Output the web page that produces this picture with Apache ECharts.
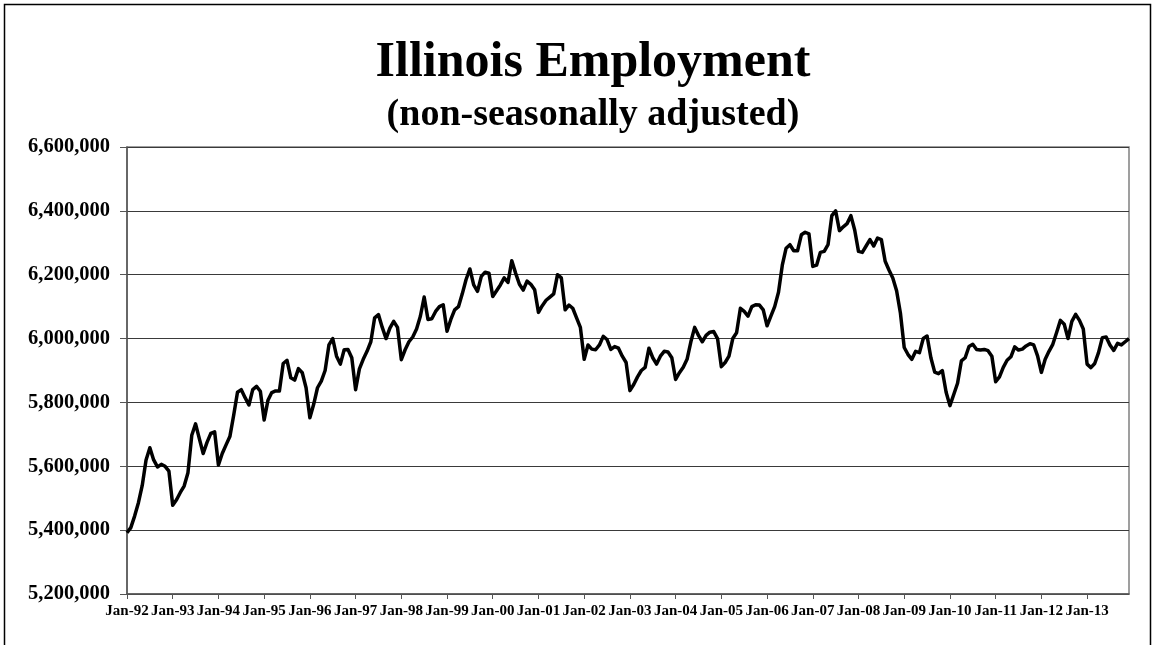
<!DOCTYPE html>
<html>
<head>
<meta charset="utf-8">
<script src="https://cdn.jsdelivr.net/npm/echarts@6/dist/echarts.min.js"></script>
<style>
  html, body { margin: 0; padding: 0; background: #ffffff; }
  #chart { width: 1156px; height: 645px; }
</style>
</head>
<body>
<div id="chart"></div>
<script>
// ---- data ----
const titleText = 'Illinois Employment';
const subtitleText = '(non-seasonally adjusted)';
const years = [1992,1993,1994,1995,1996,1997,1998,1999,2000,2001,2002,2003,2004,2005,2006,2007,2008,2009,2010,2011,2012,2013];
const monthNames = ['Jan','Feb','Mar','Apr','May','Jun','Jul','Aug','Sep','Oct','Nov','Dec'];
// monthly employment, Jan-92 .. Dec-13 (one row per year)
const employment = [
  5392000,5408000,5444000,5486000,5540000,5620000,5658000,5620000,5598000,5606000,5600000,5585000,
  5478000,5495000,5518000,5538000,5580000,5697000,5733000,5686000,5640000,5675000,5703000,5708000,
  5604000,5640000,5667000,5693000,5760000,5832000,5840000,5815000,5792000,5840000,5850000,5835000,
  5745000,5807000,5831000,5836000,5836000,5922000,5932000,5877000,5870000,5906000,5893000,5846000,
  5752000,5794000,5846000,5867000,5900000,5980000,6000000,5945000,5920000,5965000,5966000,5940000,
  5840000,5905000,5935000,5960000,5990000,6065000,6075000,6035000,6000000,6033000,6054000,6035000,
  5934000,5965000,5990000,6005000,6030000,6070000,6130000,6060000,6062000,6085000,6100000,6106000,
  6023000,6060000,6090000,6100000,6140000,6185000,6218000,6168000,6148000,6195000,6208000,6205000,
  6132000,6150000,6168000,6190000,6176000,6244000,6205000,6170000,6152000,6180000,6170000,6153000,
  6082000,6103000,6120000,6130000,6140000,6200000,6190000,6090000,6105000,6095000,6065000,6035000,
  5935000,5980000,5967000,5965000,5980000,6007000,5997000,5966000,5975000,5970000,5945000,5925000,
  5837000,5856000,5880000,5900000,5910000,5970000,5940000,5920000,5945000,5960000,5958000,5940000,
  5872000,5893000,5910000,5935000,5990000,6035000,6010000,5990000,6010000,6020000,6022000,6000000,
  5912000,5925000,5945000,6000000,6018000,6095000,6085000,6070000,6100000,6106000,6105000,6090000,
  6040000,6070000,6100000,6145000,6230000,6283000,6294000,6275000,6275000,6325000,6333000,6328000,
  6226000,6230000,6270000,6273000,6294000,6385000,6400000,6338000,6350000,6360000,6385000,6340000,
  6273000,6270000,6290000,6310000,6290000,6315000,6310000,6242000,6215000,6190000,6150000,6080000,
  5972000,5950000,5935000,5960000,5956000,6000000,6008000,5940000,5895000,5890000,5900000,5832000,
  5790000,5825000,5860000,5930000,5940000,5975000,5982000,5966000,5964000,5966000,5962000,5945000,
  5865000,5880000,5910000,5932000,5943000,5974000,5964000,5967000,5977000,5984000,5980000,5946000,
  5894000,5935000,5960000,5982000,6019000,6057000,6045000,6000000,6054000,6076000,6057000,6030000,
  5920000,5909000,5922000,5956000,6003000,6005000,5980000,5963000,5985000,5980000,5990000,6000000
];
const yMin = 5200000, yMax = 6600000, yStep = 200000;

// ---- build categories ----
const categories = [];
years.forEach(y => monthNames.forEach(m => categories.push(m + '-' + String(y).slice(2))));

const serif = '"Liberation Serif", "Times New Roman", serif';
const chart = echarts.init(document.getElementById('chart'), null, { renderer: 'canvas' });
chart.setOption({
  animation: false,
  backgroundColor: '#ffffff',
  title: [
    { text: titleText, left: 588, top: 33, textAlign: 'center',
      textStyle: { fontFamily: serif, fontWeight: 'bold', fontSize: 50, color: '#000' } },
    { text: subtitleText, left: 588, top: 91, textAlign: 'center',
      textStyle: { fontFamily: serif, fontWeight: 'bold', fontSize: 38, color: '#000' } }
  ],
  graphic: [
    { type: 'polyline', silent: true,
      shape: { points: [[4.5, 660], [4.5, 4.5], [1150.5, 4.5], [1150.5, 660]] },
      style: { stroke: '#000', lineWidth: 1.5, fill: null } }
  ],
  grid: { left: 127, right: 27, top: 147, bottom: 51, show: true, borderColor: '#808080', borderWidth: 1.5, backgroundColor: 'transparent' },
  xAxis: {
    type: 'category',
    data: categories,
    boundaryGap: false,
    axisLine: { lineStyle: { color: '#555555', width: 1.5 } },
    axisTick: { show: true, length: 5, interval: (i) => i % 12 === 0, lineStyle: { color: '#555555' } },
    axisLabel: { interval: (i) => i % 12 === 0, margin: 10, fontFamily: serif, fontWeight: 'bold', fontSize: 15, color: '#000' },
    splitLine: { show: false }
  },
  yAxis: {
    type: 'value',
    min: yMin, max: yMax, interval: yStep,
    axisLine: { show: true, lineStyle: { color: '#555555', width: 1.5 } },
    axisTick: { show: true, length: 7, lineStyle: { color: '#555555' } },
    axisLabel: { margin: 17, fontFamily: serif, fontWeight: 'bold', fontSize: 20.5, color: '#000',
      formatter: (v) => v.toLocaleString('en-US') },
    splitLine: { show: true, lineStyle: { color: '#3a3a3a', width: 1 } }
  },
  series: [{
    type: 'line',
    data: employment,
    showSymbol: false,
    smooth: false,
    lineStyle: { color: '#000', width: 3.5, join: 'round' },
    itemStyle: { color: '#000' }
  }]
});
</script>
</body>
</html>
